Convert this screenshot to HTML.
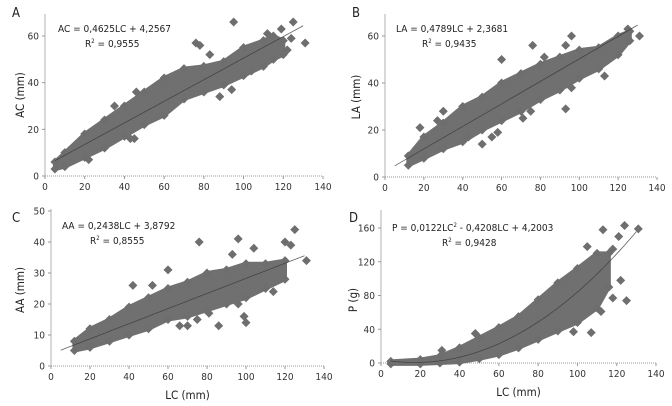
<!DOCTYPE html>
<html><head><meta charset="utf-8"><style>
body{margin:0;background:#fff}
svg{display:block;font-family:"DejaVu Sans Condensed","Liberation Sans",sans-serif}
</style></head><body>
<svg id="c" width="672" height="406" viewBox="0 0 672 406"></svg>
<script>
// Panel A data (LC vs AC)
const aEnvX=[5,10,20,30,40,50,60,70,80,90,100,110,115,120];
const aEnvLo=[3,4,8,12,17,22,26,33,36,39,43,47,50,52];
const aEnvHi=[6,10,18,24,30,36,42,46,47,49,55,58,60,58];
const aOutX=[95,125,131,76,78,83,45,43,22,94,88,119,112,124,104,46,35,122];
const aOutY=[66,66,57,57,56,52,16,16,7,37,34,63,61,59,45,36,30,54];
const aFit=[0.4625,4.2567];
// Panel B data (LC vs LA)
const bEnvX=[12,20,30,40,50,60,70,80,90,100,110,120,126];
const bEnvLo=[5,8,12,15,20,24,28,33,37,42,46,52,58];
const bEnvHi=[9,17,23,30,34,40,44,48,51,54,55,60,62];
const bOutX=[96,76,93,125,131,60,30,27,18,43,50,58,55,71,75,93,113,96,82];
const bOutY=[60,56,56,63,60,50,28,24,21,17,14,19,17,25,28,29,43,38,51];
const bFit=[0.4789,2.3681];
// Panel C data (LC vs AA)
const cEnvX=[12,20,30,40,50,60,70,80,90,100,110,120];
const cEnvLo=[5,6,8,10,12,15,16,18,20,22,25,28];
const cEnvHi=[8,12,15,19,22,25,27,30,31,33,33,34];
const cOutX=[76,96,125,93,104,120,123,131,60,42,52,86,100,99,114,96,81,75,66,70];
const cOutY=[40,41,44,36,38,40,39,34,31,26,26,13,14,16,24,20,17,15,13,13];
const cFit=[0.2438,3.8792];
// Panel D data (LC vs P)
const dEnvX=[5,20,30,40,50,60,70,80,90,100,110,116];
const dEnvLo=[-1,-1,0,1,5,10,18,28,38,48,65,90];
const dEnvHi=[2,4,8,18,30,42,55,75,95,112,130,130];
const dOutX=[113,124,131,122,118,125,112,107,98,48,31,105,121,118];
const dOutY=[158,163,159,98,77,74,61,36,37,35,15,138,150,135];
const dFit=[0.0122,-0.4208,4.2003];

const NS='http://www.w3.org/2000/svg';
const svg=document.getElementById('c');
function mk(t,a,p){const e=document.createElementNS(NS,t);for(const k in a)e.setAttribute(k,a[k]);(p||svg).appendChild(e);return e;}

function panel(o){
  const g=mk('g',{});
  
  
  const sx=v=>o.x0+(v-0)/140*(o.x1-o.x0);
  const sy=v=>o.y0-(v/o.ymax)*(o.y0-o.yTop);
  // axes
  const ya=mk('line',{x1:o.x0,y1:o.y0,x2:o.x0,y2:o.axTop,stroke:'#b0b0b0','stroke-width':1},g);
  
  const xa=mk('line',{x1:o.x0,y1:o.y0,x2:o.x1,y2:o.y0,stroke:'#999','stroke-width':1,'stroke-dasharray':'1 1'},g);
  
  for(let v=0;v<=140;v+=20){
    mk('line',{x1:sx(v),y1:o.y0,x2:sx(v),y2:o.y0+3,stroke:'#999'},g);
    const t=mk('text',{x:sx(v),y:o.y0+14,'text-anchor':'middle','font-size':10,fill:'#333'},g);
    t.textContent=v;
  }
  for(let v=0;v<=o.ymax;v+=o.ystep){
    mk('line',{x1:o.x0-3,y1:sy(v),x2:o.x0,y2:sy(v),stroke:'#999'},g);
    const t=mk('text',{x:o.x0-6,y:sy(v)+3.5,'text-anchor':'end','font-size':10,fill:'#333'},g);
    t.textContent=v;
  }
  // cloud
  let pts=o.ex.map((x,i)=>sx(x)+','+sy(o.hi[i]));
  pts=pts.concat(o.ex.map((x,i)=>sx(x)+','+sy(o.lo[i])).reverse());
  const cl=mk('polygon',{points:pts.join(' '),fill:'#707070',stroke:'#707070','stroke-width':4,'stroke-linejoin':'round'},g);
  
  const dia=(x,y)=>{const X=sx(x),Y=sy(y);const d=mk('polygon',{points:`${X},${Y-4.5} ${X+4.5},${Y} ${X},${Y+4.5} ${X-4.5},${Y}`,fill:'#6e6e6e'},g);
    };
  o.ex.forEach((x,i)=>{dia(x,o.hi[i]);dia(x,o.lo[i]);});
  o.ox.forEach((x,i)=>dia(x,o.oy[i]));
  // fit line
  let lp=[];for(let x=o.fx0;x<=o.fx1;x+=1)lp.push(sx(x)+','+sy(o.f(x)));
  const fl=mk('polyline',{points:lp.join(' '),fill:'none',stroke:'#3a3a3a','stroke-width':0.8,opacity:0.8},g);
  
  // labels
  const L=mk('text',{x:o.lx,y:o.ly,'font-size':13,fill:'#222'},g);L.textContent=o.id;
  
  const e=mk('text',{x:o.ex1,y:o.ey1,'font-size':10,fill:'#222'},g);e.innerHTML=o.eq;
  
  const r=mk('text',{x:o.ex2,y:o.ey1+15,'font-size':10,fill:'#222'},g);r.innerHTML=o.r2;
  
  const yt=mk('text',{x:o.ytx,y:o.yty,'font-size':11.5,fill:'#222','text-anchor':'middle',transform:`rotate(-90 ${o.ytx} ${o.yty})`},g);
  yt.textContent=o.yt;
  if(o.xt){const xt=mk('text',{x:(o.x0+o.x1)/2,y:o.y0+33,'font-size':11.5,fill:'#222','text-anchor':'middle'},g);
    xt.textContent='LC (mm)';}
}
const sup='<tspan dy="-4" font-size="6">2</tspan><tspan dy="4"> </tspan>';
panel({id:'A',x0:45,x1:323,y0:176,yTop:36,ymax:60,ystep:20,axTop:14,ex:aEnvX,lo:aEnvLo,hi:aEnvHi,ox:aOutX,oy:aOutY,
  f:x=>aFit[0]*x+aFit[1],fx0:5,fx1:130,lx:12,ly:17,ex1:58,ey1:32,ex2:85,eq:'AC = 0,4625LC + 4,2567',r2:'R'+sup+'= 0,9555',ytx:24,yty:95,yt:'AC (mm)'});
panel({id:'B',x0:385,x1:657,y0:177,yTop:36,ymax:60,ystep:20,axTop:14,ex:bEnvX,lo:bEnvLo,hi:bEnvHi,ox:bOutX,oy:bOutY,
  f:x=>bFit[0]*x+bFit[1],fx0:5,fx1:130,lx:352,ly:17,ex1:396,ey1:32,ex2:422,eq:'LA = 0,4789LC + 2,3681',r2:'R'+sup+'= 0,9435',ytx:360,yty:97,yt:'LA (mm)'});
panel({id:'C',x0:51,x1:324,y0:366,yTop:211,ymax:50,ystep:10,axTop:209,ex:cEnvX,lo:cEnvLo,hi:cEnvHi,ox:cOutX,oy:cOutY,
  f:x=>cFit[0]*x+cFit[1],fx0:5,fx1:130,lx:12,ly:222,ex1:62,ey1:229,ex2:90,eq:'AA = 0,2438LC + 3,8792',r2:'R'+sup+'= 0,8555',ytx:24,yty:290,yt:'AA (mm)',xt:1});
panel({id:'D',x0:381,x1:656,y0:363,yTop:228,ymax:160,ystep:40,axTop:210,ex:dEnvX,lo:dEnvLo,hi:dEnvHi,ox:dOutX,oy:dOutY,
  f:x=>dFit[0]*x*x+dFit[1]*x+dFit[2],fx0:5,fx1:130,lx:349,ly:222,ex1:392,ey1:231,ex2:442,eq:'P = 0,0122LC'+'<tspan dy="-4" font-size="6">2</tspan><tspan dy="4"> - 0,4208LC + 4,2003</tspan>',r2:'R'+sup+'= 0,9428',ytx:357,yty:300,yt:'P (g)',xt:1});
</script>
</body></html>
